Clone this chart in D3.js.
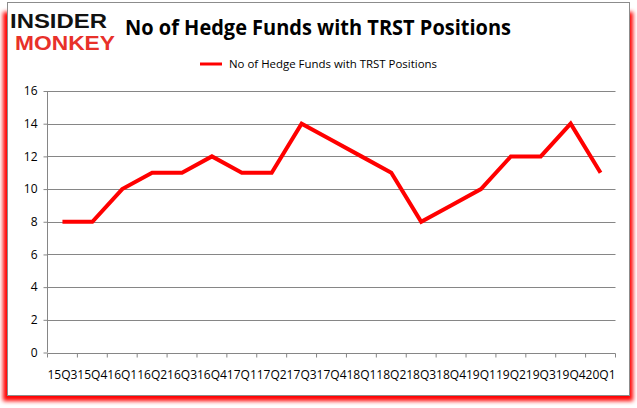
<!DOCTYPE html>
<html><head><meta charset="utf-8">
<script src="https://cdn.jsdelivr.net/npm/d3@7"></script>
<style>body{margin:0;background:#fff}svg{display:block}</style>
</head><body>
<svg id="c" width="637" height="408"></svg>
<script>
const categories = ["15Q3","15Q4","16Q1","16Q2","16Q3","16Q4","17Q1","17Q2","17Q3","17Q4","18Q1","18Q2","18Q3","18Q4","19Q1","19Q2","19Q3","19Q4","20Q1"];
const values = [8,8,10,11,11,12,11,11,14,13,12,11,8,9,10,12,12,14,11];
const yTicks = [0,2,4,6,8,10,12,14,16];
const seriesName = "No of Hedge Funds with TRST Positions";
const title = "No of Hedge Funds with TRST Positions";

const svg = d3.select("#c");
const defs = svg.append("defs");
const f = defs.append("filter").attr("id","sh").attr("x","-5%").attr("y","-5%").attr("width","110%").attr("height","110%");
f.append("feGaussianBlur").attr("stdDeviation",2.2);

// red shadow frame
svg.append("rect").attr("x",3).attr("y",12).attr("width",630).attr("height",389)
  .attr("fill","#ff0000").attr("filter","url(#sh)");
svg.append("rect").attr("x",7.5).attr("y",2.5).attr("width",622).attr("height",393)
  .attr("fill","#fff").attr("stroke","#8c8c8c").attr("stroke-width",1);

// logo
svg.append("text").attr("x",10).attr("y",28).attr("font-family","Liberation Sans").attr("font-weight","bold")
  .attr("font-size",19.5).attr("textLength",97).attr("lengthAdjust","spacingAndGlyphs").attr("fill","#111").text("INSIDER");
svg.append("text").attr("x",15).attr("y",50).attr("font-family","Liberation Sans").attr("font-weight","bold")
  .attr("font-size",19.5).attr("textLength",100).attr("lengthAdjust","spacingAndGlyphs").attr("fill","#e8312a").text("MONKEY");

// title
svg.append("text").attr("x",125).attr("y",35).attr("font-family","Open Sans, sans-serif").attr("font-weight","bold")
  .attr("font-size",21).attr("textLength",386).attr("lengthAdjust","spacingAndGlyphs").attr("fill","#000").text(title);

const x = d3.scaleBand().domain(categories).range([47.5,615.5]);
const y = d3.scaleLinear().domain([0,16]).range([352.5,91]);

// gridlines
svg.append("g").selectAll("line").data(yTicks.filter(d=>d>0)).join("line")
  .attr("x1",47.5).attr("x2",615.5).attr("y1",d=>Math.round(y(d))+0.5).attr("y2",d=>Math.round(y(d))+0.5)
  .attr("stroke","#868686").attr("stroke-width",1);

// y axis
const ya = svg.append("g").attr("transform","translate(47.5,0)")
  .call(d3.axisLeft(y).tickValues(yTicks).tickSize(4).tickPadding(6));
ya.selectAll("path,line").attr("stroke","#868686");
ya.select(".domain").attr("d","M0,"+y(16)+"V"+y(0));
ya.selectAll("text").attr("font-family","Open Sans, sans-serif").attr("font-size",12).attr("fill","#000");

// x axis
const xa = svg.append("g").attr("transform","translate(0,"+Math.round(y(0)+0.5)+".5)")
  .call(d3.axisBottom(x).tickSize(0).tickPadding(17));
xa.select(".domain").attr("stroke","#868686").attr("d","M47.5,0H615.5");
xa.selectAll("text").attr("font-family","Open Sans, sans-serif").attr("font-size",12).attr("fill","#000")
  .attr("textLength",30).attr("lengthAdjust","spacingAndGlyphs");
const bounds = categories.map(c=>x(c)).concat([x.range()[1]]);
xa.append("g").selectAll("line").data(bounds).join("line")
  .attr("x1",d=>d).attr("x2",d=>d).attr("y1",0).attr("y2",4).attr("stroke","#868686");

// line
const line = d3.line().x((d,i)=>x(categories[i])+x.bandwidth()/2).y(d=>y(d));
svg.append("path").datum(values).attr("d",line).attr("fill","none")
  .attr("stroke","#ff0000").attr("stroke-width",4).attr("stroke-linejoin","miter");

// legend
svg.append("line").attr("x1",200).attr("x2",222).attr("y1",64).attr("y2",64).attr("stroke","#ff0000").attr("stroke-width",3);
svg.append("text").attr("x",229).attr("y",68).attr("font-family","Open Sans, sans-serif").attr("font-size",11)
  .attr("textLength",208).attr("lengthAdjust","spacingAndGlyphs").attr("fill","#000").text(seriesName);
</script>
</body></html>
